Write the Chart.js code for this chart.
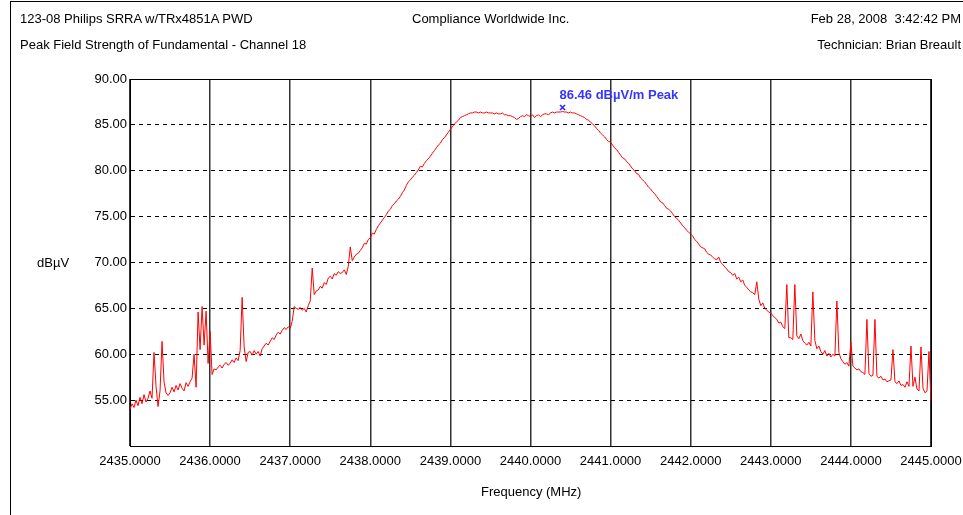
<!DOCTYPE html>
<html>
<head>
<meta charset="utf-8">
<script src="https://cdn.jsdelivr.net/npm/chart.js@4.4.1/dist/chart.umd.min.js"></script>
<style>
  body { margin: 0; background: #fff; font-family: "Liberation Sans", Arial, sans-serif; }
  #wrap { position: relative; width: 963px; height: 515px; overflow: hidden; background: #fff; }
  #frame { position: absolute; left: 10px; top: 1px; right: -3px; bottom: -3px; border-left: 1px solid #000; border-top: 1px solid #000; }
  .txt { position: absolute; font-size: 13px; line-height: 15px; color: #000; white-space: nowrap; }
  canvas { position: absolute; left: 0; top: 0; }
</style>
</head>
<body>
<div id="wrap">
  <div id="frame"></div>
  <canvas id="specChart" width="963" height="515"></canvas>
  <div class="txt" style="left:20px; top:11px;">123-08 Philips SRRA w/TRx4851A PWD</div>
  <div class="txt" style="left:412px; top:11px;">Compliance Worldwide Inc.</div>
  <div class="txt" style="right:2px; top:11px;">Feb 28, 2008&nbsp; 3:42:42 PM</div>
  <div class="txt" style="left:20px; top:37px;">Peak Field Strength of Fundamental - Channel 18</div>
  <div class="txt" style="right:2px; top:37px;">Technician: Brian Breault</div>
  <div class="txt" style="left:37px; top:255px;">dBµV</div>
  <div class="txt" style="left:481px; top:484px;">Frequency (MHz)</div>
</div>
<script>
// Sweep settings (MHz)
const startMHz = 2435;
const stepMHz = 0.025;

// x tick labels / y tick range
const freqTicks = [2435, 2436, 2437, 2438, 2439, 2440, 2441, 2442, 2443, 2444, 2445];
const levelTicks = [55, 60, 65, 70, 75, 80, 85, 90];

// measured level, dBµV, one value every 0.025 MHz (10 per row = 0.25 MHz)
const levels = [
  54.0, 54.6, 54.2, 55.0, 54.4, 55.3, 54.6, 55.6, 54.8, 55.2,
  56.0, 55.2, 60.2, 56.5, 54.3, 56.0, 61.4, 57.0, 55.8, 55.5,
  55.8, 56.4, 55.9, 56.6, 56.1, 56.8, 56.3, 56.0, 56.9, 56.5,
  57.0, 57.4, 60.0, 56.4, 64.6, 60.5, 65.2, 61.0, 64.7, 59.0,
  62.5, 57.8, 58.4, 58.3, 58.6, 58.8, 58.5, 58.9, 59.1, 58.8,
  59.0, 59.4, 59.1, 59.6, 59.3, 60.4, 66.2, 60.8, 59.2, 60.2,
  60.3, 59.9, 60.4, 60.0, 60.3, 59.8, 60.6, 60.9, 61.2, 61.0,
  61.4, 61.8, 61.6, 62.1, 62.4, 62.2, 62.6, 62.9, 62.7, 63.0,
  62.8, 63.6, 65.2, 65.0, 64.9, 65.1, 64.8, 65.0, 64.6, 65.3,
  65.8, 69.4, 66.5, 66.9, 67.0, 67.4, 67.2, 67.8, 67.6, 68.3,
  68.5, 68.2, 68.8, 68.6, 69.0, 68.8, 68.9, 69.2, 68.7, 69.6,
  71.7, 70.2, 70.6, 70.9, 71.0, 71.3, 71.6, 72.1, 72.0, 72.5,
  72.7, 73.2, 73.1, 73.6, 74.0, 74.3, 74.6, 74.9, 75.2, 75.6,
  75.8, 76.2, 76.4, 76.7, 76.9, 77.2, 77.6, 77.9, 78.4, 78.8,
  79.0, 79.3, 79.5, 79.8, 80.1, 80.5, 80.4, 80.8, 81.1, 81.3,
  81.6, 81.9, 82.2, 82.5, 82.8, 83.0, 83.4, 83.6, 83.9, 84.2,
  84.5, 84.8, 85.1, 85.3, 85.5, 85.8, 85.9, 86.0, 86.1, 86.2,
  86.3, 86.3, 86.4, 86.4, 86.3, 86.4, 86.3, 86.3, 86.4, 86.3,
  86.3, 86.3, 86.2, 86.3, 86.2, 86.2, 86.3, 86.1, 86.1, 86.0,
  86.0, 85.9, 85.8, 85.6, 85.7, 85.9, 86.0, 85.9, 86.1, 86.0,
  85.9, 86.1, 85.8, 86.0, 86.1, 85.9, 86.1, 86.2, 86.2, 86.1,
  86.3, 86.4, 86.3, 86.4, 86.4, 86.4, 86.46, 86.4, 86.4, 86.3,
  86.4, 86.3, 86.3, 86.2, 86.1, 86.0, 85.9, 85.8, 85.6, 85.5,
  85.3, 85.1, 84.9, 84.6, 84.4, 84.1, 83.9, 83.7, 83.4, 83.2,
  83.1, 82.8, 82.5, 82.3, 82.0, 81.7, 81.4, 81.3, 81.0, 80.8,
  80.5, 80.2, 80.0, 79.7, 79.6, 79.2, 79.0, 78.8, 78.5, 78.2,
  78.0, 77.7, 77.5, 77.2, 76.9, 76.6, 76.5, 76.2, 75.9, 75.8,
  75.6, 75.3, 75.0, 74.8, 74.6, 74.3, 74.0, 73.8, 73.5, 73.3,
  73.1, 72.9, 72.5, 72.3, 72.0, 71.7, 71.6, 71.5, 71.1, 70.9,
  70.8, 70.6, 70.4, 70.3, 70.6, 70.0, 69.8, 69.5, 69.3, 69.0,
  68.9, 68.6, 68.8, 68.2, 68.4, 67.9, 68.1, 67.5, 67.3, 67.0,
  66.8, 66.7, 66.5, 67.9, 66.0, 65.3, 65.6, 65.0, 64.8, 64.6,
  64.5, 64.2, 64.0, 63.8, 63.4, 63.5, 63.0, 62.8, 67.6, 61.8,
  61.8, 61.6, 67.6, 62.0, 61.7, 62.2, 61.5, 61.2, 61.0, 61.3,
  60.9, 66.8, 61.5, 60.6, 60.9, 60.3, 60.0, 60.4, 59.8, 60.1,
  59.7, 60.0, 59.8, 65.8, 60.2, 59.5, 59.2, 58.9, 59.1, 58.7,
  61.3, 58.7, 58.5, 58.3, 58.4, 58.1, 58.0, 57.8, 63.8, 57.9,
  57.6, 57.7, 63.8, 57.6, 57.4, 57.6, 57.2, 57.3, 57.0, 57.1,
  57.2, 60.5, 57.0, 56.8, 57.1, 56.6, 56.7, 56.4, 57.0, 56.5,
  60.9, 56.5, 57.5, 56.2, 56.0, 60.8, 56.3, 55.8, 56.0, 60.3,
  54.8
];

// peak marker
const peakFreq = 2440.40;
const peakLevel = 86.46;
const peakText = '86.46 dBµV/m Peak';

const tracePoints = levels.map((v, i) => ({ x: startMHz + i * stepMHz, y: v }));

// solid box round the plot area
const framePlugin = {
  id: 'plotFrame',
  beforeDatasetsDraw(chart) {
    const { ctx, chartArea: a } = chart;
    ctx.save();
    ctx.strokeStyle = '#000';
    ctx.lineWidth = 1;
    ctx.strokeRect(Math.round(a.left) + 0.5, Math.round(a.top) + 0.5,
      Math.round(a.right - a.left), Math.round(a.bottom - a.top));
    ctx.restore();
  }
};

// blue x and label at the peak
const peakPlugin = {
  id: 'peakMark',
  afterDatasetsDraw(chart) {
    const { ctx, scales } = chart;
    const px = scales.x.getPixelForValue(peakFreq);
    const py = scales.y.getPixelForValue(peakLevel) - 4;
    ctx.save();
    ctx.strokeStyle = '#2a2aff';
    ctx.lineWidth = 1.6;
    ctx.beginPath();
    ctx.moveTo(px - 2.5, py - 2.5); ctx.lineTo(px + 2.5, py + 2.5);
    ctx.moveTo(px + 2.5, py - 2.5); ctx.lineTo(px - 2.5, py + 2.5);
    ctx.stroke();
    ctx.fillStyle = '#3535ff';
    ctx.font = 'bold 13px "Liberation Sans", Arial, sans-serif';
    ctx.textBaseline = 'alphabetic';
    ctx.fillText(peakText, px - 3, py - 8);
    ctx.restore();
  }
};

const ctx = document.getElementById('specChart').getContext('2d');
const specChart = new Chart(ctx, {
  type: 'line',
  data: {
    datasets: [{
      data: tracePoints,
      borderColor: '#ff0000',
      borderWidth: 1,
      pointRadius: 0,
      tension: 0,
      fill: false
    }]
  },
  options: {
    responsive: false,
    animation: false,
    devicePixelRatio: 1,
    layout: { padding: { left: 0, right: 32, top: 79, bottom: 0 } },
    plugins: {
      legend: { display: false },
      tooltip: { enabled: false }
    },
    scales: {
      x: {
        type: 'linear',
        min: freqTicks[0],
        max: freqTicks[freqTicks.length - 1],
        afterBuildTicks: s => { s.ticks = freqTicks.map(v => ({ value: v })); },
        afterFit: s => { s.height = 69; s.paddingLeft = 0; s.paddingRight = 0; },
        ticks: {
          autoSkip: false,
          maxRotation: 0,
          padding: 8,
          color: '#000',
          font: { family: '"Liberation Sans", Arial, sans-serif', size: 13 },
          callback: v => Number(v).toFixed(4)
        },
        grid: { color: '#333', lineWidth: 1.5, drawTicks: false },
        border: { color: '#000', width: 1 }
      },
      y: {
        type: 'linear',
        min: 50,
        max: 90,
        afterBuildTicks: s => { s.ticks = [50].concat(levelTicks).map(v => ({ value: v })); },
        afterFit: s => { s.width = 130; s.paddingTop = 0; s.paddingBottom = 0; },
        ticks: {
          padding: 3,
          color: '#000',
          font: { family: '"Liberation Sans", Arial, sans-serif', size: 13 },
          callback: v => (v === 50 ? '' : Number(v).toFixed(2))
        },
        grid: { color: '#000', lineWidth: 1, drawTicks: false },
        border: { color: '#000', width: 1, dash: [4, 4] }
      }
    }
  },
  plugins: [framePlugin, peakPlugin]
});
</script>
</body>
</html>
